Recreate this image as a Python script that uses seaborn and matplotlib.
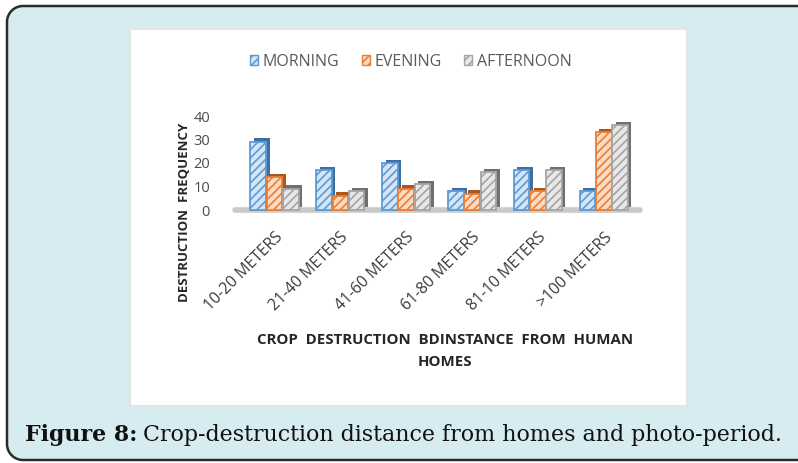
import matplotlib
matplotlib.use("Agg")
import matplotlib.pyplot as plt
import matplotlib.transforms as mtransforms
from matplotlib.patches import FancyBboxPatch, Rectangle, Patch, PathPatch
from matplotlib.path import Path
import seaborn as sns
import pandas as pd

# Data: crop-destruction frequency by distance band and photo-period
distances = ["10-20 METERS", "21-40 METERS", "41-60 METERS",
             "61-80 METERS", "81-10 METERS", ">100 METERS"]
periods = ["MORNING", "EVENING", "AFTERNOON"]
morning = [29, 17, 20, 8, 17, 8]
evening = [14, 6, 9, 7, 8, 33]
afternoon = [9, 8, 11, 16, 17, 36]
yticks = [0, 10, 20, 30, 40]

front_colors = {"MORNING": "#5b9bd5", "EVENING": "#ed7d31", "AFTERNOON": "#a5a5a5"}
tint_colors = {"MORNING": "#d6e5f5", "EVENING": "#fbdcc6", "AFTERNOON": "#e8e8e8"}
side_colors = {"MORNING": "#3f6f9f", "EVENING": "#a9571f", "AFTERNOON": "#6f6f6f"}

rows = []
for p, vals in zip(periods, [morning, evening, afternoon]):
    for d, v in zip(distances, vals):
        rows.append({"distance": d, "period": p, "freq": v})
df = pd.DataFrame(rows)

sns.set_theme(style="white")
plt.rcParams["font.family"] = ["Open Sans", "DejaVu Sans"]
plt.rcParams["hatch.linewidth"] = 1.2

W, H = 798, 463
fig = plt.figure(figsize=(W / 100, H / 100), dpi=100)
fig.patch.set_facecolor("#d7ecf1")

# Outer frame: rounded on the left, running off the right edge of the page
L, B, T, R, r = 7, 3, 457, W + 20, 16
k = 0.5523 * r
frame_path = Path(
    [(R, T), (L + r, T),
     (L + r - k, T), (L, T - r + k), (L, T - r),
     (L, B + r),
     (L, B + r - k), (L + r - k, B), (L + r, B),
     (R, B)],
    [Path.MOVETO, Path.LINETO,
     Path.CURVE4, Path.CURVE4, Path.CURVE4,
     Path.LINETO,
     Path.CURVE4, Path.CURVE4, Path.CURVE4,
     Path.LINETO])
# white outside the rounded corners
for (cx, cy, x0, y0) in [(L + r, T - r, 0, T - r), (L + r, B + r, 0, 0)]:
    fig.patches.append(Rectangle((x0, y0), L + r, r + 6, transform=None,
                                 facecolor="white", edgecolor="none", zorder=0))
corner_fill = FancyBboxPatch((L, B), R + 100, T - B, boxstyle="round,pad=0,rounding_size=16",
                             transform=None, facecolor="#d7ecf1", edgecolor="none",
                             zorder=0.2)
fig.patches.append(corner_fill)
fig.patches.append(PathPatch(frame_path, transform=None, fill=False,
                             edgecolor="#2b2b2b", linewidth=1.8, zorder=0.5))

# White chart panel with soft border
panel = Rectangle((130, H - 406), 557, 377, transform=None,
                  facecolor="white", edgecolor="#e4e4e4", linewidth=1.5, zorder=1)
fig.patches.append(panel)

# Plot area
ax = fig.add_axes([235 / W, (H - 210) / H, 405 / W, 94 / H])
ax.set_zorder(2)
ax.patch.set_alpha(0)

# Side faces (3D depth) drawn first, shifted up-right
sns.barplot(data=df, x="distance", y="freq", hue="period", hue_order=periods,
            palette=side_colors, width=0.74, gap=0.04, legend=False, ax=ax,
            saturation=1)
n_side = len(ax.patches)
offset = mtransforms.ScaledTranslation(3.5 / 100, 3.5 / 100, fig.dpi_scale_trans)
for patch in ax.patches[:n_side]:
    patch.set_transform(ax.transData + offset)
    patch.set_edgecolor("none")
    patch.set_clip_on(False)

# Front faces with diagonal hatch
sns.barplot(data=df, x="distance", y="freq", hue="period", hue_order=periods,
            palette=front_colors, width=0.74, gap=0.04, legend=False, ax=ax,
            saturation=1)
for cont, p in zip(ax.containers[len(periods):], periods):
    for bar in cont:
        bar.set_facecolor(tint_colors[p])
        bar.set_edgecolor(front_colors[p])
        bar.set_hatch("////")
        bar.set_linewidth(1.3)
        bar.set_clip_on(False)

# Floor
ax.axhline(0, color="#c9c9c9", lw=4, zorder=0.5, clip_on=False)

ax.set_ylim(0, 40)
ax.set_xlim(-0.6, 5.55)
ax.set_yticks(yticks)
ax.set_yticklabels([str(t) for t in yticks], color="#4a4a4a", fontsize=10.5)
ax.tick_params(axis="y", length=0, pad=18)
ax.tick_params(axis="x", length=0, pad=14)
ax.set_xticks(range(len(distances)))
ax.set_xticklabels(distances, rotation=45, ha="right", rotation_mode="anchor",
                   color="#3a3a3a", fontsize=11.3)
for s in ax.spines.values():
    s.set_visible(False)
ax.set_xlabel("")
ax.set_ylabel("")

# Axis titles
fig.text(184 / W, 1 - 212 / H, "DESTRUCTION  FREQUENCY", rotation=90,
         ha="center", va="center", fontsize=9.5, fontweight="bold", color="#262626")
fig.text(445 / W, 1 - 351 / H, "CROP  DESTRUCTION  BDINSTANCE  FROM  HUMAN\nHOMES",
         ha="center", va="center", fontsize=10.8, fontweight="bold", color="#262626",
         linespacing=1.8)

# Legend
handles = [Patch(facecolor=tint_colors[p], edgecolor=front_colors[p], hatch="////",
                 label=p) for p in periods]
leg = fig.legend(handles=handles, loc="center", bbox_to_anchor=(411 / W, 1 - 62 / H),
                 ncol=3, frameon=False, fontsize=11.5, handlelength=0.5,
                 handleheight=0.6, handletextpad=0.3, columnspacing=1.4)
for t in leg.get_texts():
    t.set_color("#5a5a5a")

# Caption, scaled so it spans the frame width
cap_y = 1 - 441 / H
cap_fs = 16.0
t1 = fig.text(25 / W, cap_y, "Figure 8:", fontsize=cap_fs, fontweight="bold",
              family="DejaVu Serif", color="#111111", va="baseline")
t2 = fig.text(0, cap_y, "Crop-destruction distance from homes and photo-period.",
              fontsize=cap_fs, family="DejaVu Serif", color="#111111", va="baseline")
fig.canvas.draw()
total = t1.get_window_extent().width + 6 + t2.get_window_extent().width
cap_fs = cap_fs * 760 / total
t1.set_fontsize(cap_fs)
t2.set_fontsize(cap_fs)
fig.canvas.draw()
bb = t1.get_window_extent()
t2.set_x((bb.x1 + 6) / W)

fig.savefig("out.png", dpi=100, facecolor="white")
